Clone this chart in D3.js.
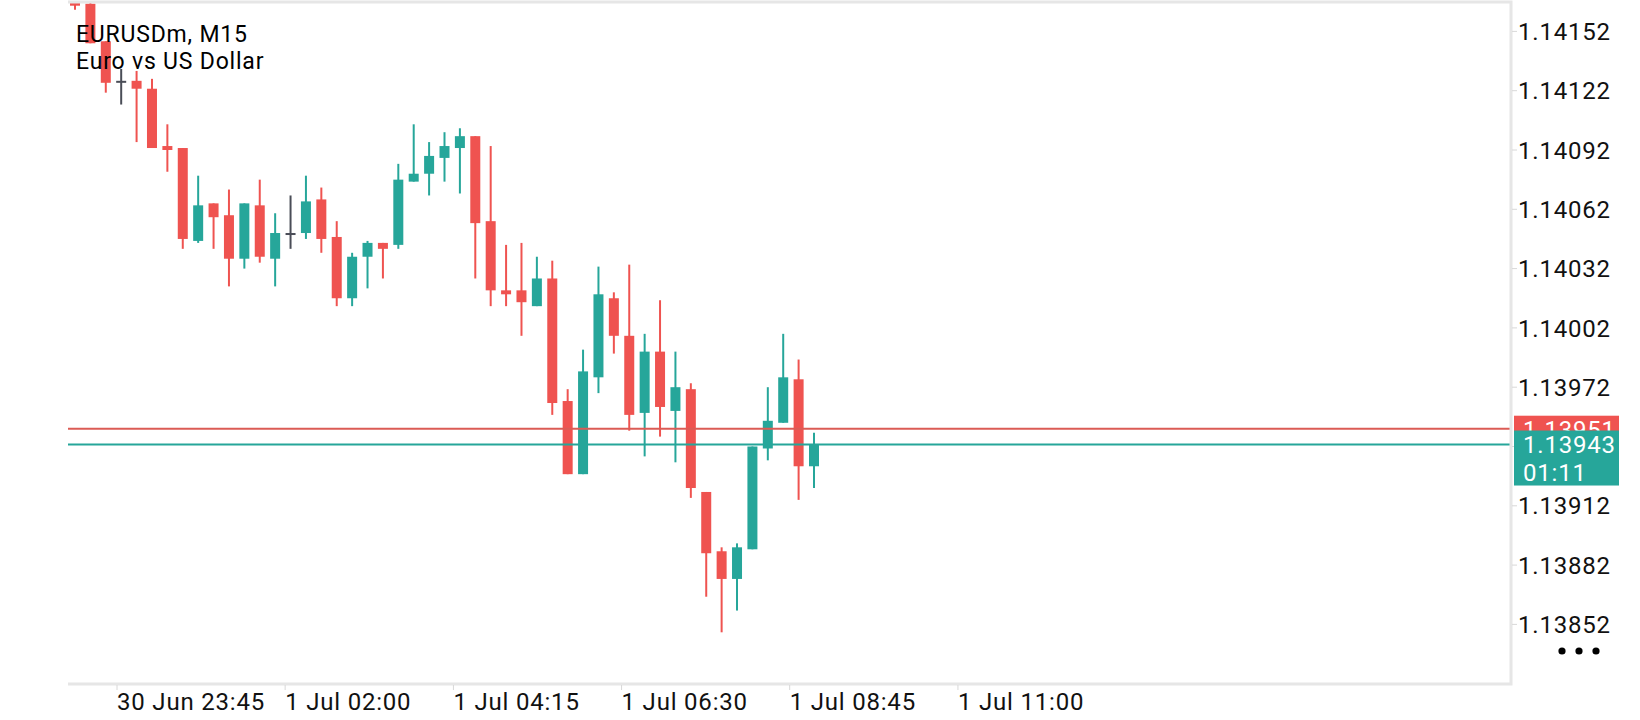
<!DOCTYPE html>
<html>
<head>
<meta charset="utf-8">
<script src="https://cdn.jsdelivr.net/npm/d3@7"></script>
<style>
  body { margin: 0; background: #fff; }
  svg text { font-family: Roboto, "Noto Sans", sans-serif; letter-spacing: 0.8px; }
</style>
</head>
<body>
<div id="chart"></div>
<script>
// EURUSDm M15 candles (oldest first)
var opens  = [1.14168,1.14166,1.14147,1.14127,1.14127,1.14123,1.14094,1.14093,1.14046,1.14065,
              1.14059,1.14037,1.14064,1.14037,1.14050,1.14050,1.14067,1.14048,1.14017,1.14038,
              1.14045,1.14044,1.14076,1.14080,1.14088,1.14093,1.14099,1.14056,1.14021,1.14021,
              1.14013,1.14027,1.13965,1.13928,1.13977,1.14017,1.13998,1.13959,1.13990,1.13960,
              1.13971,1.13919,1.13889,1.13875,1.13890,1.13941,1.13954,1.13976,1.13932];
var highs  = [1.14172,1.14170,1.14147,1.14133,1.14132,1.14128,1.14105,1.14093,1.14079,1.14065,
              1.14072,1.14065,1.14077,1.14060,1.14069,1.14079,1.14073,1.14056,1.14040,1.14046,
              1.14045,1.14085,1.14105,1.14096,1.14101,1.14103,1.14099,1.14094,1.14044,1.14045,
              1.14038,1.14036,1.13971,1.13991,1.14033,1.14020,1.14034,1.13999,1.14016,1.13990,
              1.13974,1.13919,1.13891,1.13893,1.13942,1.13972,1.13999,1.13986,1.13949];
var lows   = [1.14163,1.14146,1.14121,1.14115,1.14096,1.14093,1.14081,1.14042,1.14045,1.14042,
              1.14023,1.14032,1.14035,1.14023,1.14042,1.14047,1.14040,1.14013,1.14013,1.14022,
              1.14027,1.14042,1.14076,1.14069,1.14076,1.14070,1.14027,1.14013,1.14013,1.13998,
              1.14013,1.13958,1.13928,1.13928,1.13969,1.13989,1.13950,1.13937,1.13947,1.13934,
              1.13916,1.13866,1.13848,1.13859,1.13890,1.13935,1.13954,1.13915,1.13921];
var closes = [1.14165,1.14146,1.14126,1.14127,1.14123,1.14093,1.14092,1.14047,1.14064,1.14058,
              1.14037,1.14065,1.14038,1.14050,1.14050,1.14066,1.14047,1.14017,1.14038,1.14045,
              1.14042,1.14077,1.14080,1.14089,1.14094,1.14099,1.14055,1.14021,1.14019,1.14015,
              1.14027,1.13964,1.13928,1.13980,1.14019,1.13998,1.13958,1.13990,1.13962,1.13972,
              1.13921,1.13888,1.13875,1.13891,1.13942,1.13955,1.13977,1.13932,1.13943];

var priceTicks = [1.13852,1.13882,1.13912,1.13942,1.13972,1.14002,1.14032,1.14062,1.14092,1.14122,1.14152];
// time labels and the bar position each one sits at
var timeLabels = ["30 Jun 23:45","1 Jul 02:00","1 Jul 04:15","1 Jul 06:30","1 Jul 08:45","1 Jul 11:00"];
var timeTickBars = [2.73, 13.65, 24.58, 35.5, 46.42, 57.35];

var askPrice = 1.13951;
var bidPrice = 1.13943;
var timerText = "01:11";
var titleLines = ["EURUSDm, M15", "Euro vs US Dollar"];

var W = 1640, H = 720;
var plot = {left: 68, top: 2, right: 1511, bottom: 684};
var bodyW = 10;

var upColor = "#26a69a", downColor = "#ef5350", dojiColor = "#4a4d57";
var askColor = "#db5b55";

var candles = opens.map(function(o, i) {
    return {i: i, o: o, h: highs[i], l: lows[i], c: closes[i]};
});

var x = d3.scaleLinear().domain([0, 48]).range([75, 814]);
var y = d3.scaleLinear().domain([1.13852, 1.14152]).range([624.4, 31.4]);

var svg = d3.select("#chart").append("svg")
    .attr("width", W).attr("height", H);

svg.append("rect").attr("width", W).attr("height", H).attr("fill", "#fff");

svg.append("clipPath").attr("id", "plotclip")
    .append("rect")
    .attr("x", plot.left).attr("y", plot.top + 1)
    .attr("width", plot.right - plot.left).attr("height", plot.bottom - plot.top - 1);

var g = svg.append("g").attr("clip-path", "url(#plotclip)");

function colorOf(d) {
    if (d.c > d.o) return upColor;
    if (d.c < d.o) return downColor;
    return dojiColor;
}

var cg = g.selectAll(".candle")
    .data(candles)
    .enter().append("g")
    .attr("class", "candle");

cg.append("line")
    .attr("x1", function(d) { return x(d.i); })
    .attr("x2", function(d) { return x(d.i); })
    .attr("y1", function(d) { return y(d.h); })
    .attr("y2", function(d) { return y(d.l); })
    .attr("stroke", colorOf)
    .attr("stroke-width", 2);

cg.append("rect")
    .attr("x", function(d) { return x(d.i) - bodyW / 2; })
    .attr("width", bodyW)
    .attr("y", function(d) { return Math.min(y(d.o), y(d.c)); })
    .attr("height", function(d) { return Math.max(2, Math.abs(y(d.o) - y(d.c))); })
    .attr("fill", colorOf);

// ask / bid lines
g.append("line")
    .attr("x1", plot.left).attr("x2", plot.right)
    .attr("y1", y(askPrice)).attr("y2", y(askPrice))
    .attr("stroke", askColor).attr("stroke-width", 2);
g.append("line")
    .attr("x1", plot.left).attr("x2", plot.right)
    .attr("y1", y(bidPrice)).attr("y2", y(bidPrice))
    .attr("stroke", upColor).attr("stroke-width", 2);

// frame
var frame = "#e6e6e6";
svg.append("path")
    .attr("d", "M" + plot.left + "," + plot.top + "H" + plot.right + "V" + plot.bottom + "H" + plot.left)
    .attr("fill", "none").attr("stroke", frame).attr("stroke-width", 3);

// price axis
var yAxis = svg.append("g");
yAxis.selectAll("line")
    .data(priceTicks).enter().append("line")
    .attr("x1", plot.right + 1).attr("x2", plot.right + 6)
    .attr("y1", function(d) { return y(d); })
    .attr("y2", function(d) { return y(d); })
    .attr("stroke", "#d8d8d8").attr("stroke-width", 1);
yAxis.selectAll("text")
    .data(priceTicks).enter().append("text")
    .attr("x", plot.right + 7)
    .attr("y", function(d) { return y(d); })
    .attr("dy", "0.36em")
    .attr("font-size", 24)
    .attr("fill", "#111")
    .text(function(d) { return d.toFixed(5); });

// time axis
var xAxis = svg.append("g");
xAxis.selectAll("line")
    .data(timeTickBars).enter().append("line")
    .attr("x1", function(d) { return x(d); })
    .attr("x2", function(d) { return x(d); })
    .attr("y1", plot.bottom + 1).attr("y2", plot.bottom + 6)
    .attr("stroke", "#d8d8d8").attr("stroke-width", 1);
xAxis.selectAll("text")
    .data(timeTickBars).enter().append("text")
    .attr("x", function(d) { return x(d); })
    .attr("y", 710)
    .attr("font-size", 24)
    .attr("fill", "#111")
    .text(function(d, i) { return timeLabels[i]; });

// ask tag, then bid tag with timer on top of it
var tagX = plot.right + 3, tagW = 105;
svg.append("rect")
    .attr("x", tagX).attr("y", y(askPrice) - 13)
    .attr("width", tagW).attr("height", 28)
    .attr("fill", downColor);
svg.append("text")
    .attr("x", tagX + 9).attr("y", y(askPrice) + 9)
    .attr("font-size", 24).attr("fill", "#fff")
    .text(askPrice.toFixed(5));

svg.append("rect")
    .attr("x", tagX).attr("y", y(bidPrice) - 14)
    .attr("width", tagW).attr("height", 55)
    .attr("fill", upColor);
svg.append("text")
    .attr("x", tagX + 9).attr("y", y(bidPrice) + 8.5)
    .attr("font-size", 24).attr("fill", "#fff")
    .text(bidPrice.toFixed(5));
svg.append("text")
    .attr("x", tagX + 9).attr("y", y(bidPrice) + 36.5)
    .attr("font-size", 24).attr("fill", "#fff")
    .text(timerText);

// menu dots
svg.selectAll(".dot")
    .data([0, 1, 2]).enter().append("circle")
    .attr("cx", function(d) { return 1562 + d * 17; })
    .attr("cy", 651)
    .attr("r", 3.6)
    .attr("fill", "#000");

// title
svg.selectAll(".title")
    .data(titleLines).enter().append("text")
    .attr("x", 76)
    .attr("y", function(d, i) { return 42 + i * 27; })
    .attr("font-size", 23)
    .attr("letter-spacing", "0.4px")
    .attr("fill", "#000")
    .text(function(d) { return d; });
</script>
</body>
</html>
